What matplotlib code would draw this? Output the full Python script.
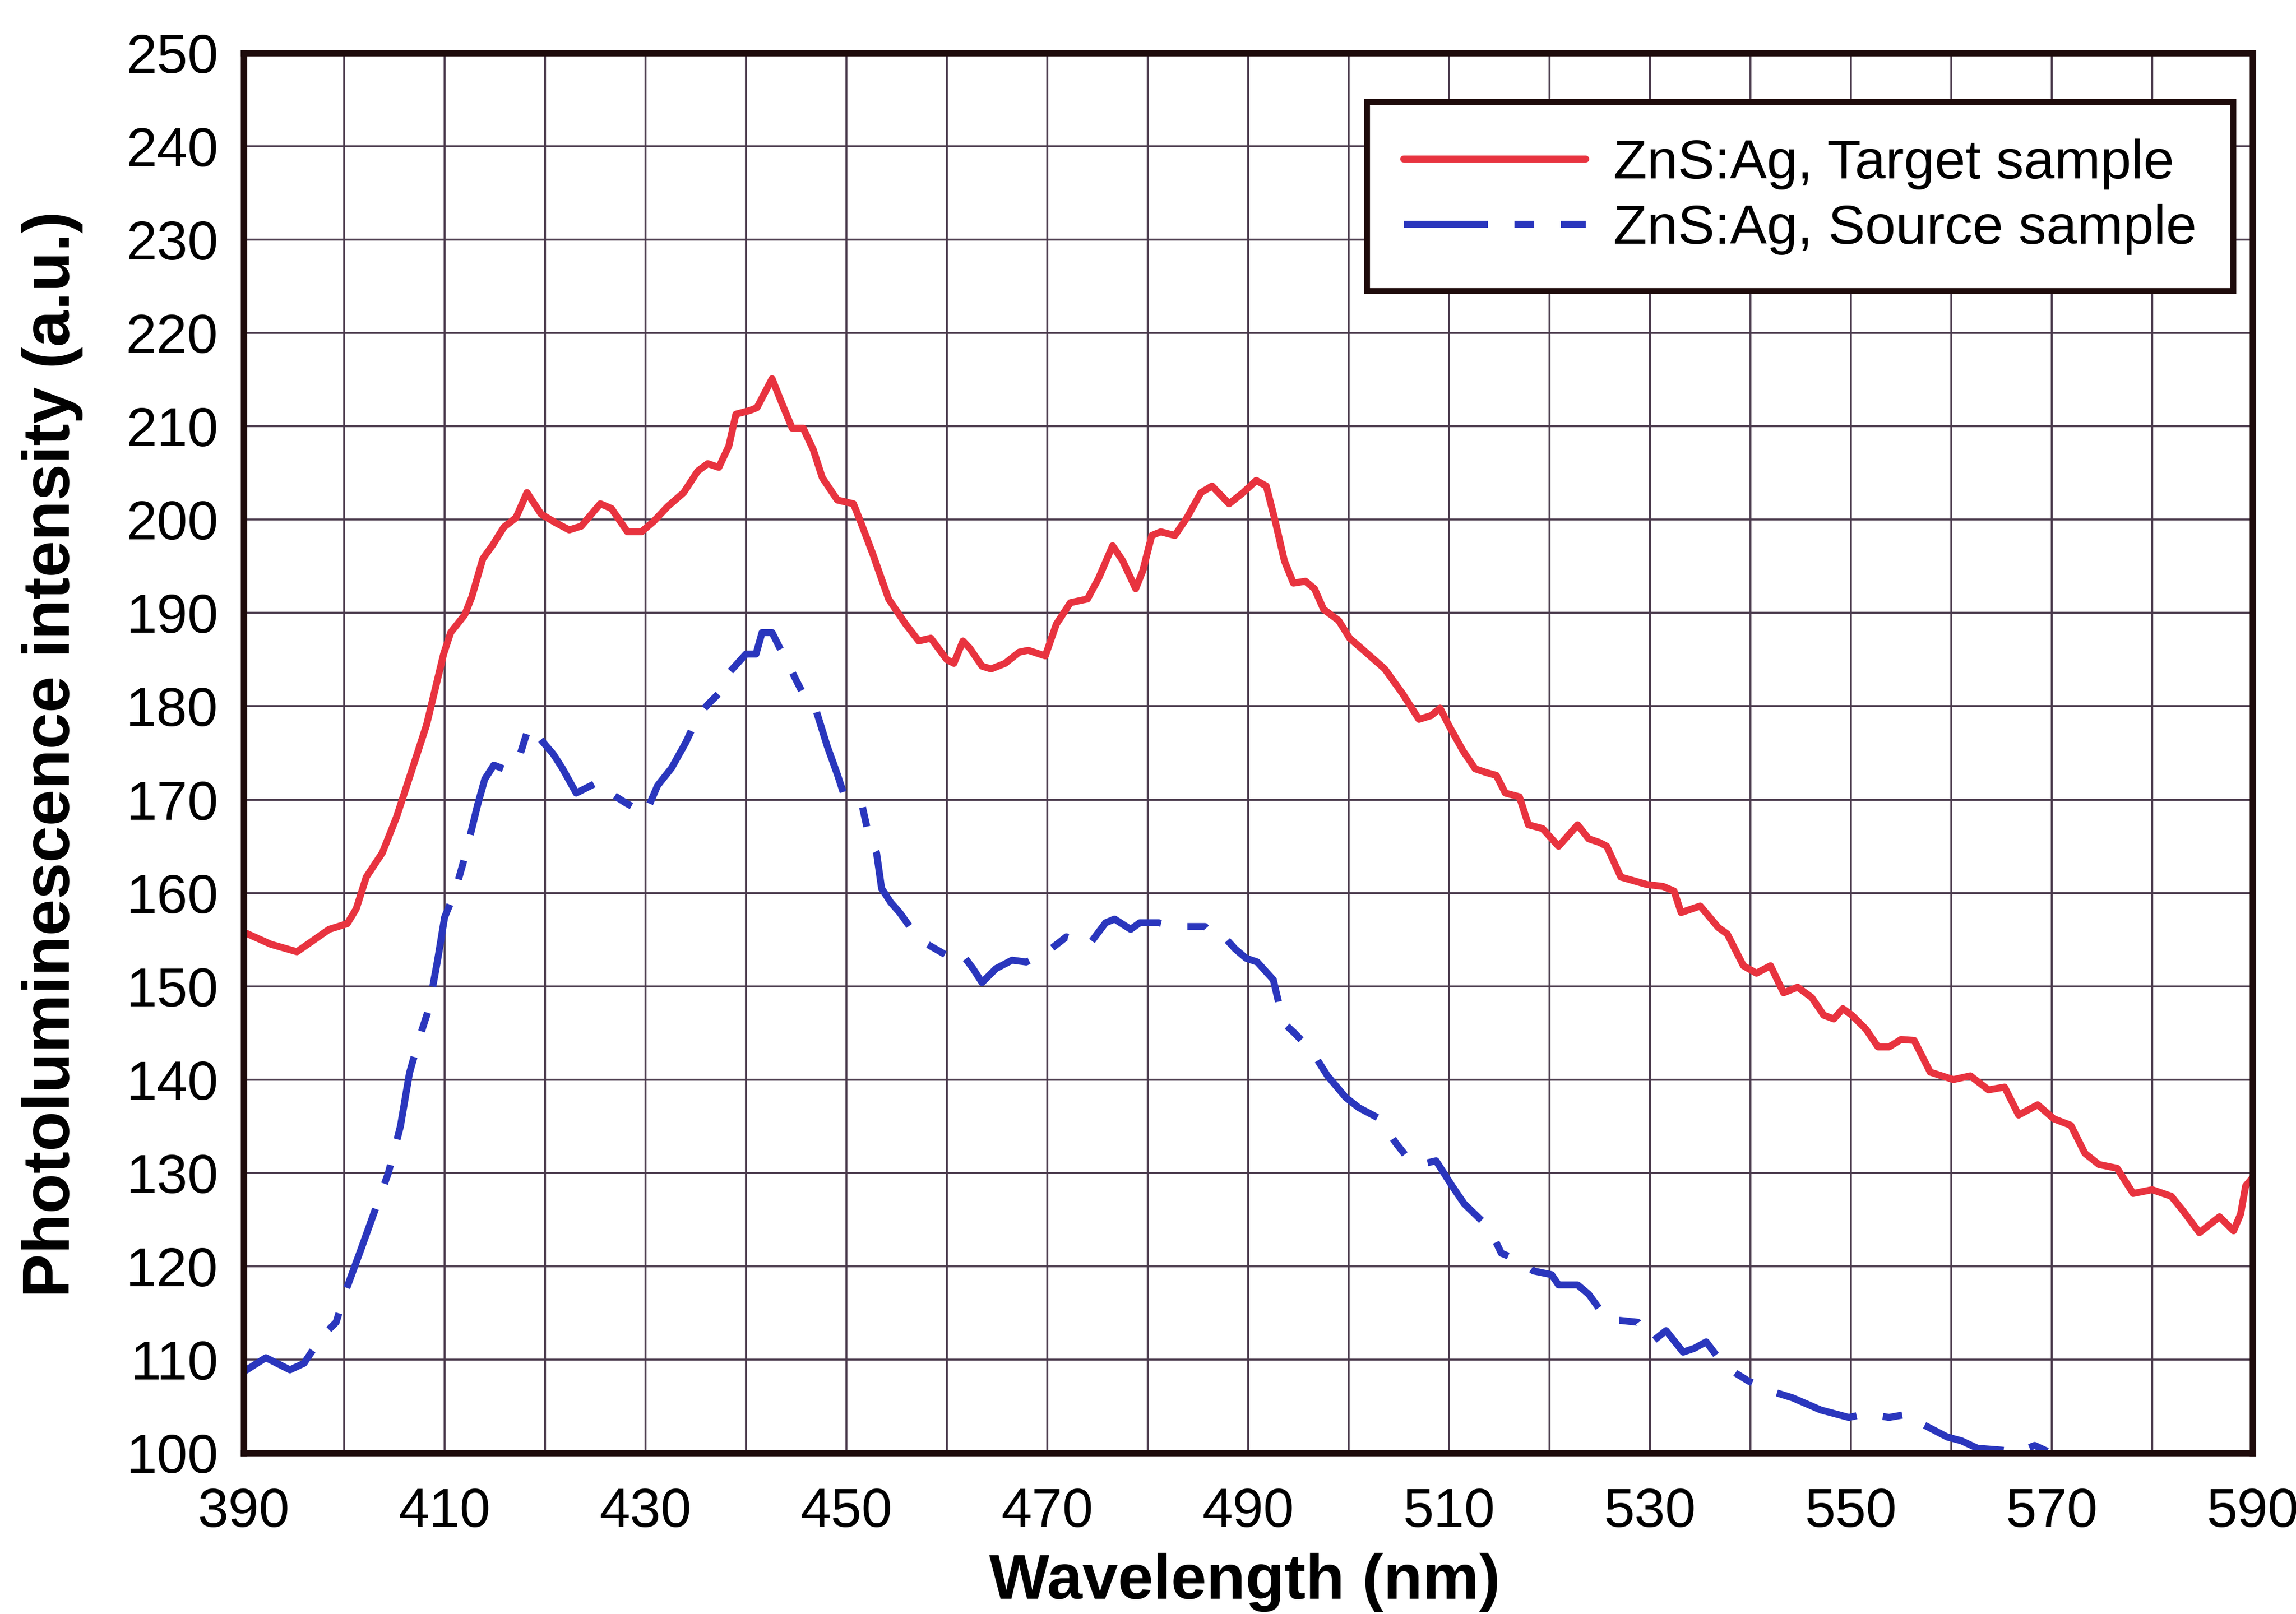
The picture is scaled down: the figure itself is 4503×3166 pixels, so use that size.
import matplotlib
matplotlib.use("Agg")
import matplotlib.pyplot as plt
from matplotlib.ticker import FixedLocator, MultipleLocator

# Photoluminescence spectra of ZnS:Ag (wavelength in nm, intensity in a.u.)
target_wavelength = [
    390.0, 392.7, 395.3, 398.5, 400.3, 401.2, 402.2, 403.8, 405.2, 406.6,
    408.2, 409.9, 410.6, 412.0, 412.7, 413.8, 414.8, 415.9, 417.1, 418.2,
    419.6, 421.0, 422.4, 423.6, 425.5, 426.6, 428.2, 429.6, 430.8, 432.2,
    433.8, 435.2, 436.2, 437.3, 438.3, 439.0, 440.4, 441.1, 442.6, 443.6,
    444.6, 445.7, 446.7, 447.6, 449.1, 450.7, 451.4, 452.6, 454.2, 455.9,
    457.2, 458.4, 460.0, 460.7, 461.6, 462.3, 463.5, 464.4, 465.8, 467.2,
    468.1, 469.8, 470.9, 472.3, 474.0, 475.1, 476.5, 477.5, 478.8, 479.5,
    480.4, 481.3, 482.7, 483.9, 485.3, 486.4, 488.1, 489.5, 490.8, 491.8,
    492.7, 493.6, 494.5, 495.7, 496.6, 497.5, 499.0, 500.1, 501.7, 503.6,
    505.4, 507.0, 508.2, 509.1, 510.0, 511.4, 512.6, 513.7, 514.7, 515.6,
    517.0, 517.9, 519.3, 520.9, 522.8, 523.9, 525.0, 525.7, 527.1, 529.7,
    531.3, 532.4, 533.1, 535.0, 536.8, 537.7, 539.3, 540.6, 542.0, 543.3,
    544.7, 546.1, 547.3, 548.3, 549.2, 550.1, 551.5, 552.7, 553.8, 555.0,
    556.3, 557.9, 560.2, 561.9, 563.7, 565.3, 566.7, 568.6, 570.2, 571.9,
    573.3, 574.7, 576.5, 578.1, 580.0, 581.9, 583.1, 584.7, 586.7, 588.1,
    588.8, 589.3, 590.0,
]
target_intensity = [
    155.8, 154.5, 153.7, 156.1, 156.7, 158.3, 161.7, 164.3, 168.1, 172.7,
    178.0, 185.6, 187.9, 189.8, 191.7, 195.8, 197.3, 199.2, 200.2, 202.9,
    200.6, 199.7, 198.9, 199.3, 201.7, 201.2, 198.7, 198.7, 199.8, 201.4,
    202.9, 205.2, 206.0, 205.6, 207.9, 211.3, 211.7, 212.0, 215.1, 212.4,
    209.8, 209.8, 207.5, 204.5, 202.1, 201.7, 199.8, 196.4, 191.5, 188.8,
    187.0, 187.3, 185.0, 184.6, 187.0, 186.2, 184.3, 184.0, 184.6, 185.8,
    186.0, 185.4, 188.8, 191.1, 191.5, 193.7, 197.2, 195.6, 192.6, 194.5,
    198.3, 198.7, 198.3, 200.2, 202.9, 203.6, 201.7, 202.9, 204.2, 203.6,
    199.8, 195.6, 193.2, 193.4, 192.6, 190.4, 189.2, 187.3, 185.8, 184.0,
    181.3, 178.6, 179.0, 179.8, 177.9, 175.2, 173.3, 172.9, 172.6, 170.7,
    170.3, 167.3, 166.9, 165.0, 167.3, 165.8, 165.4, 165.0, 161.7, 160.9,
    160.7, 160.2, 157.9, 158.6, 156.3, 155.6, 152.2, 151.4, 152.2, 149.3,
    149.9, 148.8, 146.9, 146.5, 147.6, 146.9, 145.4, 143.5, 143.5, 144.3,
    144.2, 140.8, 140.0, 140.4, 138.9, 139.2, 136.2, 137.3, 135.8, 135.1,
    132.1, 130.9, 130.5, 127.8, 128.2, 127.5, 125.9, 123.6, 125.3, 123.8,
    125.6, 128.6, 129.5,
]

source_wavelength = [
    390.0, 392.2, 394.6, 396.0, 397.8, 399.2, 400.2, 401.6, 403.0, 404.4,
    405.6, 406.5, 407.5, 408.4, 409.3, 410.0, 411.0, 412.1, 413.3, 414.0,
    414.9, 416.1, 417.3, 418.4, 419.6, 420.8, 421.7, 423.1, 425.3, 426.5,
    428.1, 430.0, 431.2, 432.6, 434.0, 435.3, 436.3, 437.7, 438.4, 440.0,
    441.0, 441.6, 442.6, 443.3, 444.2, 445.8, 447.0, 448.1, 449.1, 449.8,
    451.0, 451.6, 452.3, 453.0, 453.5, 454.4, 455.3, 456.3, 457.9, 460.0,
    461.2, 462.6, 463.5, 464.9, 466.5, 467.9, 470.0, 471.9, 474.2, 475.8,
    476.7, 478.3, 479.2, 481.1, 482.7, 485.7, 486.6, 487.6, 488.7, 489.8,
    490.9, 492.5, 493.5, 494.6, 496.3, 497.9, 499.7, 501.0, 503.1, 504.7,
    506.1, 507.1, 508.7, 510.3, 511.5, 514.0, 515.2, 517.0, 518.4, 520.2,
    520.9, 522.8, 523.9, 525.8, 527.0, 528.8, 530.2, 531.6, 533.3, 534.4,
    535.6, 537.2, 538.6, 539.8, 542.4, 544.2, 547.0, 549.8, 551.5, 553.8,
    555.9, 557.1, 559.6, 561.0, 562.6, 565.0, 566.6, 568.3, 569.7,
]
source_intensity = [
    108.7, 110.2, 108.9, 109.6, 112.5, 114.0, 117.5, 121.6, 125.8, 130.0,
    135.0, 140.7, 144.5, 147.5, 152.8, 157.4, 160.0, 164.2, 169.5, 172.2,
    173.7, 173.2, 174.1, 177.9, 176.4, 174.9, 173.4, 170.7, 171.9, 170.7,
    169.6, 168.5, 171.5, 173.4, 176.1, 179.1, 180.3, 181.8, 183.7, 185.6,
    185.6, 187.9, 187.9, 186.4, 184.5, 181.1, 179.5, 175.7, 172.7, 170.4,
    170.0, 169.2, 165.8, 164.3, 160.5, 159.0, 157.9, 156.4, 154.6, 153.3,
    153.9, 151.9, 150.4, 151.9, 152.8, 152.6, 153.7, 155.3, 154.5, 156.8,
    157.2, 156.1, 156.8, 156.8, 156.4, 156.4, 155.3, 155.3, 154.0, 153.0,
    152.6, 150.7, 146.1, 145.0, 143.1, 140.4, 138.1, 137.0, 135.8, 133.2,
    131.3, 130.9, 131.3, 128.6, 126.7, 124.1, 121.4, 120.6, 119.5, 119.1,
    118.0, 118.0, 117.0, 114.2, 114.2, 114.0, 111.9, 113.1, 110.8, 111.2,
    111.9, 109.6, 108.5, 107.7, 106.5, 105.9, 104.6, 103.8, 104.2, 103.8,
    104.2, 103.1, 101.7, 101.3, 100.5, 100.3, 100.1, 100.8, 100.1,
]

series_labels = ["ZnS:Ag, Target sample", "ZnS:Ag, Source sample"]
x_tick_labels = [390, 410, 430, 450, 470, 490, 510, 530, 550, 570, 590]
x_label = "Wavelength (nm)"
y_label = "Photoluminescence intensity (a.u.)"

plt.rcParams["font.family"] = ["Liberation Sans", "DejaVu Sans"]

W, H, DPI = 4503, 3166, 300
fig = plt.figure(figsize=(W / DPI, H / DPI), dpi=DPI, facecolor="white")
left, right, top, bottom = 478 / W, 4418 / W, 1 - 104 / H, 1 - 2850 / H
ax = fig.add_axes([left, bottom, right - left, top - bottom])

frame_color = "#1e0b0b"
grid_color = "#4a3a4c"

ax.plot(target_wavelength, target_intensity, color="#e8333f", lw=3.3,
        solid_joinstyle="round", solid_capstyle="round",
        label=series_labels[0], zorder=3)
ax.plot(source_wavelength, source_intensity, color="#2a36bd", lw=3.3,
        linestyle=(0, (12, 3.8, 2.8, 3.8)), dash_joinstyle="round",
        label=series_labels[1], zorder=3)

ax.set_xlim(390, 590)
ax.set_ylim(100, 250)
ax.xaxis.set_major_locator(FixedLocator(x_tick_labels))
ax.xaxis.set_minor_locator(MultipleLocator(10))
ax.yaxis.set_major_locator(MultipleLocator(10))
ax.grid(which="both", color=grid_color, lw=0.9)
ax.set_axisbelow(True)
ax.tick_params(which="both", length=0)
ax.tick_params(axis="x", pad=16, labelsize=26)
ax.tick_params(axis="y", pad=12, labelsize=26)
for spine in ax.spines.values():
    spine.set_linewidth(3.0)
    spine.set_color(frame_color)
    spine.set_zorder(5)

ax.set_xlabel(x_label, fontsize=30, fontweight="bold", va="baseline")
ax.xaxis.set_label_coords(2441 / W, 30 / H, transform=fig.transFigure)
ax.set_ylabel(y_label, fontsize=31, fontweight="bold", va="center")
ax.yaxis.set_label_coords(103 / W, 1 - 1480 / H, transform=fig.transFigure)

leg = ax.legend(loc="upper right", bbox_to_anchor=(4380 / W, 1 - 200 / H),
                bbox_transform=fig.transFigure, fontsize=26, frameon=True,
                fancybox=False, borderpad=0.66, labelspacing=0.26,
                handlelength=3.3, handletextpad=0.5, borderaxespad=0)
frame = leg.get_frame()
frame.set_edgecolor(frame_color)
frame.set_linewidth(2.8)
frame.set_facecolor("white")
frame.set_alpha(1)
leg.set_zorder(6)

fig.savefig("out.png", dpi=DPI, facecolor="white")
